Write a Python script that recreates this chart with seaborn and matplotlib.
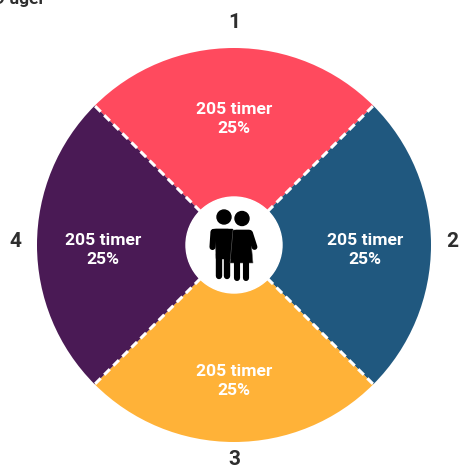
"""Four equal slices around a couple icon."""

import matplotlib.pyplot as plt
import numpy as np
import seaborn as sns
from matplotlib.patches import Circle, Polygon

LABELS = ["1", "2", "3", "4"]
HOURS = [205, 205, 205, 205]
SHARES = [25, 25, 25, 25]
COLORS = ["#FF4A5E", "#20587F", "#FFB238", "#4A1A55"]
TITLE_TAIL = "9 uger"

CX, CY, R = 234, 245, 197
INK = "#2E2E2E"


def px(x, y):
    return (x - CX) / R, (CY - y) / R


def bar(ax, x0, y0, x1, y1, w, zorder=6):
    (a, b), (c, d) = px(x0, y0), px(x1, y1)
    ax.plot([a, c], [b, d], color="black", lw=w, solid_capstyle="round", zorder=zorder)


def draw_icon(ax):
    # man
    ax.add_patch(Circle(px(224, 217), 7 / R, color="black", zorder=6))
    ax.add_patch(Polygon([px(215, 229), px(232, 229), px(232, 258), px(216, 258)],
                         color="black", zorder=6))
    bar(ax, 214, 232, 228, 232, 4.6)
    bar(ax, 213.5, 232, 212.5, 247, 4.4)
    bar(ax, 219.5, 254, 219.5, 276, 4.6)
    bar(ax, 227.5, 254, 227.5, 276, 4.6)
    # woman, with a thin light edge where she overlaps the man
    ax.add_patch(Polygon([px(233, 230), px(250, 230), px(253, 263), px(230, 263)],
                         facecolor="black", edgecolor="#666666", lw=0.4, zorder=7))
    ax.add_patch(Circle(px(242, 218.5), 7 / R, color="black", zorder=7))
    bar(ax, 236, 232.5, 249, 232.5, 4.6, zorder=7)
    bar(ax, 250, 233, 254.5, 247, 4.2, zorder=7)
    bar(ax, 237.5, 262, 237.5, 278, 4.4, zorder=7)
    bar(ax, 246, 262, 246, 278, 4.4, zorder=7)


def main():
    sns.set_theme(style="white")
    plt.rcParams["font.family"] = ["Roboto", "DejaVu Sans"]

    fig = plt.figure(figsize=(4.6, 4.66), dpi=100)
    ax = fig.add_axes([0, 0, 1, 1])
    palette = sns.color_palette(COLORS)
    texts = [f"{h} timer\n{s}%" for h, s in zip(HOURS, SHARES)]

    ax.pie(
        HOURS,
        colors=palette,
        startangle=135,
        counterclock=False,
        radius=1,
        wedgeprops={"width": 1 - 48 / 197, "linewidth": 0},
    )

    # slice labels and dashed separators follow the data angles
    edges = 135 - np.cumsum([0] + HOURS) / sum(HOURS) * 360
    mids = (edges[:-1] + edges[1:]) / 2
    down = 5 / R
    for angle, text, label in zip(np.deg2rad(mids), texts, LABELS):
        ax.text(0.665 * np.cos(angle), 0.665 * np.sin(angle) - down, text, color="white",
                fontsize=12.6, fontweight="bold", ha="center", va="center",
                linespacing=1.28, zorder=5)
        ax.text(1.11 * np.cos(angle), 1.11 * np.sin(angle) + 0.02,
                label, color=INK, fontsize=15, fontweight="bold", ha="center", va="center")
    for angle in np.deg2rad(edges[:-1]):
        ax.plot([0.24 * np.cos(angle), np.cos(angle)],
                [0.24 * np.sin(angle), np.sin(angle)],
                color="white", lw=2.2, dashes=(2.6, 1.6), zorder=4)

    ax.add_patch(Circle((0, 0), 48 / R, color="white", zorder=5))
    draw_icon(ax)

    ax.text(*px(-5, 4), TITLE_TAIL, color=INK, fontsize=12.5, fontweight="bold",
            ha="left", va="baseline", clip_on=True)

    ax.set_aspect("equal")
    ax.set_xlim(-CX / R, (460 - CX) / R)
    ax.set_ylim(-(466 - CY) / R, CY / R)
    ax.axis("off")
    fig.savefig("out.png", dpi=100, facecolor="white")
    plt.close(fig)


if __name__ == "__main__":
    main()
